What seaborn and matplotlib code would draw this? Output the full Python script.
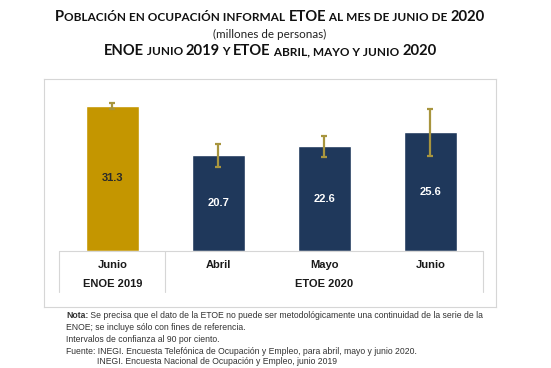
#!/usr/bin/env python3
import seaborn as sns
import matplotlib.pyplot as plt
from matplotlib.offsetbox import TextArea, HPacker, AnnotationBbox
import pandas as pd

# Data
bar_keys = ["Junio 2019", "Abril 2020", "Mayo 2020", "Junio 2020"]
month_labels = ["Junio", "Abril", "Mayo", "Junio"]
survey = ["ENOE", "ETOE", "ETOE", "ETOE"]
values = [31.3, 20.7, 22.6, 25.6]
ci_low = [30.7, 18.2, 20.3, 20.4]
ci_high = [31.9, 23.1, 24.8, 30.6]
group_labels = ["ENOE 2019", "ETOE 2020"]

GOLD = "#c49600"
NAVY = "#1f385b"
ERR = "#a8953e"
GRID = "#d6d6d6"

sns.set_style("white")
plt.rcParams["font.family"] = ["Liberation Sans", "DejaVu Sans"]

df = pd.DataFrame({"key": bar_keys, "value": values, "survey": survey})

fig = plt.figure(figsize=(5.51, 3.68), dpi=100)
ax = fig.add_axes([44 / 551, 1 - 307 / 368, 452 / 551, 228 / 368])

sns.barplot(
    data=df,
    x="key",
    y="value",
    hue="survey",
    palette={"ENOE": GOLD, "ETOE": NAVY},
    saturation=1,
    width=0.5,
    dodge=False,
    legend=False,
    ax=ax,
)

xs = list(range(len(values)))
yerr = [
    [v - lo for v, lo in zip(values, ci_low)],
    [hi - v for v, hi in zip(values, ci_high)],
]
ax.errorbar(xs, values, yerr=yerr, fmt="none", ecolor=ERR, elinewidth=1.6,
            capsize=2.5, capthick=1.6, zorder=3)

# value labels in the middle of each bar
for x, v in zip(xs, values):
    ax.text(x, v / 2, f"{v:.1f}", ha="center", va="center", fontsize=8,
            fontweight="bold", color="#2a2a2a" if x == 0 else "white")

# category table under the bars
ax.plot([-0.5, 3.5], [0, 0], color=GRID, lw=0.8, zorder=1)
for xv in [-0.5, 0.5, 3.5]:
    ax.plot([xv, xv], [0, -8.8], color=GRID, lw=0.8)
for x, lab in zip(xs, month_labels):
    ax.text(x, -3.0, lab, ha="center", va="center", fontsize=8,
            fontweight="bold", color="#1a1a1a")
ax.text(0, -7.1, group_labels[0], ha="center", va="center", fontsize=8,
        fontweight="bold", color="#1a1a1a")
ax.text(2, -7.1, group_labels[1], ha="center", va="center", fontsize=8,
        fontweight="bold", color="#1a1a1a")

ax.set_xlim(-0.645, 3.62)
ax.set_ylim(-12.07, 37.07)
ax.set_xticks([])
ax.set_yticks([])
ax.set_xlabel("")
ax.set_ylabel("")
for s in ax.spines.values():
    s.set_color(GRID)
    s.set_linewidth(0.8)


# Title lines in small caps
def smallcaps(parts, y, big=10.6, small=8.5):
    kids = []
    for txt, is_big in parts:
        kids.append(TextArea(txt, textprops=dict(
            fontsize=big if is_big else small, fontweight="bold",
            family=["Lato", "DejaVu Sans"], color="#111111")))
    box = HPacker(children=kids, align="baseline", pad=0, sep=0)
    ab = AnnotationBbox(box, (0.49, y), xycoords="figure fraction",
                        frameon=False, box_alignment=(0.5, 0.5),
                        annotation_clip=False)
    fig.add_artist(ab)


smallcaps([("P", True), ("OBLACIÓN EN OCUPACIÓN INFORMAL ", False),
           ("ETOE", True), (" AL MES DE JUNIO DE ", False), ("2020", True)],
          1 - 17 / 368)
fig.text(0.49, 1 - 34 / 368, "(millones de personas)", ha="center",
         va="center", fontsize=8.4, family=["Lato", "DejaVu Sans"],
         color="#222222")
smallcaps([("ENOE", True), (" JUNIO ", False), ("2019", True), (" Y ", False),
           ("ETOE", True), (" ABRIL, MAYO Y JUNIO ", False), ("2020", True)],
          1 - 51 / 368)

# Notes
note_kw = dict(fontsize=6.2, color="#333333")
nota = HPacker(children=[
    TextArea("Nota:", textprops=dict(fontweight="bold", **note_kw)),
    TextArea(" Se precisa que el dato de la ETOE no puede ser metodológicamente"
             " una continuidad de la serie de la", textprops=note_kw),
], align="baseline", pad=0, sep=0)
fig.add_artist(AnnotationBbox(nota, (66 / 551, 1 - 316 / 368),
                              xycoords="figure fraction", frameon=False,
                              box_alignment=(0, 0.5), annotation_clip=False))
fig.text(66 / 551, 1 - 328 / 368,
         "ENOE; se incluye sólo con fines de referencia.", va="center", **note_kw)
fig.text(66 / 551, 1 - 340 / 368, "Intervalos de confianza al 90 por ciento.",
         va="center", **note_kw)
fig.text(66 / 551, 1 - 351 / 368,
         "Fuente: INEGI. Encuesta Telefónica de Ocupación y Empleo, para abril,"
         " mayo y junio 2020.", va="center", **note_kw)
fig.text(97 / 551, 1 - 362 / 368,
         "INEGI. Encuesta Nacional de Ocupación y Empleo, junio 2019",
         va="center", **note_kw)

fig.savefig("out.png", dpi=100)
